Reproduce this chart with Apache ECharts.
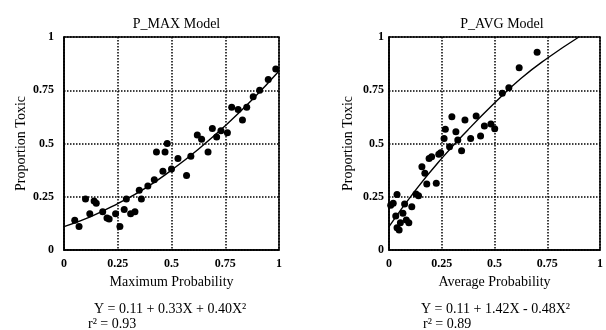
<!DOCTYPE html>
<html>
<head>
<meta charset="utf-8">
<script src="https://cdn.jsdelivr.net/npm/echarts@6/dist/echarts.min.js"></script>
<style>
  html, body { margin: 0; padding: 0; background: #fff; }
  #chart { width: 606px; height: 330px; }
</style>
</head>
<body>
<div id="chart"></div>
<script>
// tick labels shared by both panels
const ticks = [0, 0.25, 0.5, 0.75, 1];

// P_MAX panel: [maximum probability, proportion toxic]
const maxPoints = [
  [0.05, 0.14], [0.07, 0.11], [0.10, 0.24], [0.12, 0.17], [0.14, 0.23],
  [0.15, 0.22], [0.18, 0.18], [0.20, 0.15], [0.21, 0.145], [0.24, 0.17],
  [0.26, 0.11], [0.28, 0.19], [0.29, 0.24], [0.31, 0.17], [0.33, 0.18],
  [0.35, 0.28], [0.36, 0.24], [0.39, 0.30], [0.42, 0.33], [0.46, 0.37],
  [0.43, 0.46], [0.47, 0.46], [0.48, 0.50], [0.50, 0.38], [0.53, 0.43],
  [0.57, 0.35], [0.59, 0.44], [0.62, 0.54], [0.64, 0.52], [0.67, 0.46],
  [0.69, 0.57], [0.71, 0.53], [0.73, 0.56], [0.76, 0.55], [0.78, 0.67],
  [0.81, 0.66], [0.83, 0.61], [0.85, 0.67], [0.88, 0.72], [0.91, 0.75],
  [0.95, 0.80], [0.985, 0.85]
];
// fitted curve
const maxFit = [
  [0, 0.11], [0.125, 0.157], [0.25, 0.218], [0.375, 0.288], [0.5, 0.375],
  [0.625, 0.473], [0.75, 0.583], [0.875, 0.705], [1, 0.84]
];

// P_AVG panel: [average probability, proportion toxic]
const avgPoints = [
  [0.008, 0.21], [0.02, 0.22], [0.038, 0.26], [0.032, 0.16], [0.038, 0.105],
  [0.048, 0.094], [0.054, 0.128], [0.066, 0.172], [0.074, 0.216], [0.082, 0.141],
  [0.094, 0.128], [0.108, 0.203], [0.128, 0.263], [0.14, 0.255], [0.156, 0.391],
  [0.17, 0.36], [0.179, 0.31], [0.19, 0.43], [0.202, 0.438], [0.224, 0.313],
  [0.236, 0.45], [0.245, 0.457], [0.261, 0.524], [0.267, 0.567], [0.287, 0.485],
  [0.298, 0.626], [0.317, 0.555], [0.326, 0.516], [0.344, 0.466], [0.36, 0.61],
  [0.387, 0.524], [0.413, 0.629], [0.434, 0.535], [0.452, 0.582], [0.483, 0.592],
  [0.501, 0.569], [0.537, 0.736], [0.568, 0.762], [0.617, 0.856], [0.702, 0.928]
];
const avgFit = [
  [0, 0.11], [0.125, 0.28], [0.25, 0.43], [0.375, 0.565], [0.5, 0.69],
  [0.625, 0.805], [0.75, 0.9], [0.9, 1.0]
];

const titles = ['P_MAX Model', 'P_AVG Model'];
const xNames = ['Maximum Probability', 'Average Probability'];
const yName = 'Proportion Toxic';
const equations = ['Y = 0.11 + 0.33X + 0.40X²', 'Y = 0.11 + 1.42X - 0.48X²'];
const rSquared = ['r² = 0.93', 'r² = 0.89'];

const serif = '"Liberation Serif", "DejaVu Serif", serif';
const ink = '#000';

const grids = [
  { left: 64, top: 37, width: 215, height: 213 },
  { left: 389, top: 37, width: 216, height: 213 }
];

function xAxis(i) {
  return {
    gridIndex: i, type: 'value', min: 0, max: 1, interval: 0.25,
    name: xNames[i], nameLocation: 'middle', nameGap: 25,
    nameTextStyle: { fontFamily: serif, fontSize: 14, color: ink },
    axisLine: { show: true, lineStyle: { color: ink, width: 1.5 } },
    axisTick: { show: false },
    axisLabel: { fontFamily: serif, fontSize: 12, fontWeight: 'bold', color: ink, margin: 8 },
    splitLine: { show: true, lineStyle: { color: ink, type: 'dotted', width: 1.5 } }
  };
}
function yAxis(i) {
  return {
    gridIndex: i, type: 'value', min: 0, max: 1, interval: 0.25,
    name: yName, nameLocation: 'middle', nameGap: i === 0 ? 36 : 34,
    nameTextStyle: { fontFamily: serif, fontSize: 14, color: ink },
    axisLine: { show: true, lineStyle: { color: ink, width: 1.5 } },
    axisTick: { show: false },
    axisLabel: { fontFamily: serif, fontSize: 12, fontWeight: 'bold', color: ink, margin: i === 0 ? 10 : 5 },
    splitLine: { show: true, lineStyle: { color: ink, type: 'dotted', width: 1.5 } }
  };
}

const chart = echarts.init(document.getElementById('chart'));
chart.setOption({
  animation: false,
  backgroundColor: '#fff',
  title: titles.map((t, i) => ({
    text: t,
    left: grids[i].left + grids[i].width / 2,
    top: 12,
    textAlign: 'center',
    textStyle: { fontFamily: serif, fontSize: 14, fontWeight: 'normal', color: ink }
  })),
  grid: grids.map(g => Object.assign({ show: true, borderColor: ink, borderWidth: 1.5, containLabel: false }, g)),
  xAxis: [xAxis(0), xAxis(1)],
  yAxis: [yAxis(0), yAxis(1)],
  series: [
    { type: 'scatter', xAxisIndex: 0, yAxisIndex: 0, data: maxPoints, symbolSize: 7,
      itemStyle: { color: ink, opacity: 1 }, z: 3 },
    { type: 'line', xAxisIndex: 0, yAxisIndex: 0, data: maxFit, smooth: true, showSymbol: false,
      lineStyle: { color: ink, width: 1.4 }, z: 2 },
    { type: 'scatter', xAxisIndex: 1, yAxisIndex: 1, data: avgPoints, symbolSize: 7,
      itemStyle: { color: ink, opacity: 1 }, z: 3 },
    { type: 'line', xAxisIndex: 1, yAxisIndex: 1, data: avgFit, smooth: true, showSymbol: false,
      lineStyle: { color: ink, width: 1.4 }, z: 2 }
  ],
  graphic: [
    { type: 'text', left: 94, top: 302, style: { text: equations[0], font: '14px ' + serif, fill: ink } },
    { type: 'text', left: 88, top: 317, style: { text: rSquared[0], font: '14px ' + serif, fill: ink } },
    { type: 'text', left: 421, top: 302, style: { text: equations[1], font: '14px ' + serif, fill: ink } },
    { type: 'text', left: 423, top: 317, style: { text: rSquared[1], font: '14px ' + serif, fill: ink } }
  ]
});
</script>
</body>
</html>
